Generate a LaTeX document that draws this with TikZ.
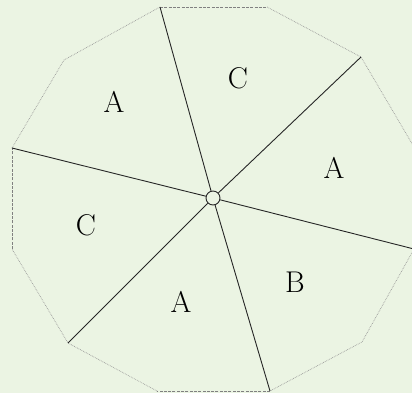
\documentclass[tikz,border=0pt]{standalone}
\usepackage{tikz}
\definecolor{bgreen}{RGB}{235,244,227}
\begin{document}
\begin{tikzpicture}[x=1pt,y=-1pt,
  rim/.style={black!40,line width=.7pt,densely dotted},
  rimdash/.style={black!50,line width=.7pt,dash pattern=on 3pt off 1.3pt},
  cut/.style={black!85,line width=.9pt},
  lbl/.style={font=\fontsize{30}{30}\selectfont,text=black}]
\path[use as bounding box,fill=bgreen] (0,0) rectangle (412,393);
% corners of the twelve-sided outline
\coordinate (p15) at (414.0,147.0);
\coordinate (p45) at (361.0,57.0);
\coordinate (p75) at (267.0,7.0);
\coordinate (p105) at (160.0,7.0);
\coordinate (p135) at (64.0,60.0);
\coordinate (p165) at (12.0,148.0);
\coordinate (p195) at (12.0,249.0);
\coordinate (p225) at (68.0,343.0);
\coordinate (p255) at (157.0,391.0);
\coordinate (p285) at (270.0,391.0);
\coordinate (p315) at (362.0,342.0);
\coordinate (p345) at (414.0,249.0);
\draw[rimdash] (p105)--(p75);
\draw[rim] (p75)--(p45)--(p15);
\draw[rimdash] (p15)--(p345);
\draw[rim] (p345)--(p315)--(p285);
\draw[rimdash] (p285)--(p255);
\draw[rim] (p255)--(p225)--(p195);
\draw[rimdash] (p195)--(p165);
\draw[rim] (p165)--(p135)--(p105);
% hub and the three cuts
\node[circle,draw=black!85,line width=.9pt,fill=bgreen,minimum size=14pt,inner sep=0pt] (hub) at (213,198) {};
\draw[cut] (p105)--(hub) (hub)--(p285);
\draw[cut] (p165)--(hub) (hub)--(p345);
\draw[cut] (p45)--(hub) (hub)--(p225);
% sector labels
\node[lbl] (sa1) at (114,102) {A};
\node[lbl] (sc1) at (238,78) {C};
\node[lbl] (sa2) at (334,168) {A};
\node[lbl] (sb) at (295,282) {B};
\node[lbl] (sa3) at (181,302) {A};
\node[lbl] (sc2) at (86,225) {C};
\end{tikzpicture}
\end{document}
